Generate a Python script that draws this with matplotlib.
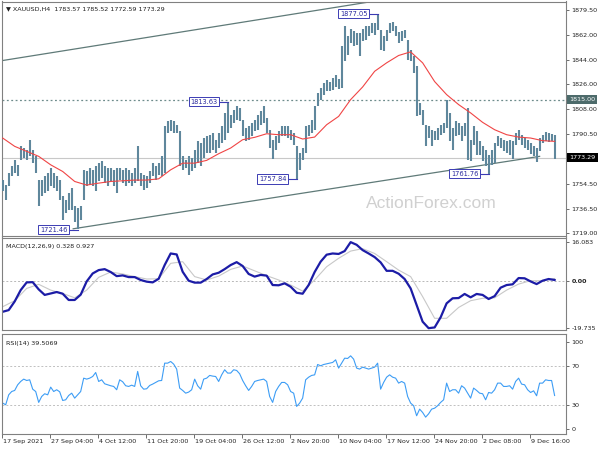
import numpy as np
import matplotlib
matplotlib.use("Agg")
import matplotlib.pyplot as plt
import matplotlib.transforms as mtransforms

# XAUUSD H4, one entry per 8 hours (two H4 bars)
highs = [
    1757.3, 1753.7, 1762.1, 1766.9, 1771.8, 1768.1, 1781.4, 1780.2, 1779.0, 1786.2,
    1779.0, 1774.2, 1757.3, 1757.3, 1759.7, 1762.1, 1765.7, 1762.1, 1759.7, 1757.3,
    1745.3, 1742.9, 1747.7, 1751.3, 1738.1, 1736.9, 1738.1, 1764.5, 1763.3, 1765.7,
    1764.5, 1766.9, 1769.3, 1770.5, 1766.9, 1765.7, 1765.7, 1764.5, 1765.7, 1765.7,
    1764.5, 1765.7, 1764.5, 1762.1, 1765.7, 1781.4, 1762.1, 1760.9, 1759.7, 1763.3,
    1769.3, 1766.9, 1769.3, 1774.2, 1795.8, 1799.4, 1800.6, 1799.4, 1797.0, 1792.2,
    1774.2, 1771.8, 1774.2, 1773.0, 1779.0, 1785.0, 1783.8, 1787.4, 1788.6, 1789.8,
    1791.0, 1786.2, 1791.0, 1795.8, 1805.5, 1813.6, 1804.3, 1807.9, 1810.3, 1809.1,
    1800.6, 1794.6, 1795.8, 1798.2, 1800.6, 1804.3, 1806.7, 1810.7, 1801.8, 1793.4,
    1786.2, 1788.6, 1792.2, 1795.8, 1795.8, 1795.8, 1793.4, 1791.0, 1781.4, 1776.6,
    1780.2, 1795.8, 1797.0, 1800.6, 1810.3, 1819.9, 1823.5, 1827.1, 1829.5, 1827.6,
    1830.7, 1833.1, 1830.0, 1853.6, 1868.5, 1860.8, 1866.1, 1864.4, 1863.2, 1863.2,
    1866.1, 1868.0, 1868.5, 1870.4, 1870.4, 1877.1, 1865.6, 1860.8, 1865.6, 1870.0,
    1870.9, 1868.5, 1863.7, 1864.4, 1865.6, 1858.0, 1851.2, 1846.4, 1839.1, 1812.7,
    1807.9, 1797.0, 1795.8, 1793.4, 1792.2, 1794.6, 1797.0, 1798.2, 1815.1, 1805.5,
    1794.6, 1799.4, 1798.2, 1795.8, 1798.2, 1809.1, 1786.2, 1795.8, 1792.2, 1785.0,
    1781.4, 1779.0, 1775.4, 1779.0, 1783.8, 1788.6, 1787.4, 1786.2, 1785.0, 1786.2,
    1785.0, 1791.0, 1793.4, 1789.8, 1787.4, 1786.2, 1783.8, 1781.4, 1780.2, 1787.4,
    1789.8, 1791.5, 1791.0, 1790.3, 1789.8,
]
lows = [
    1748.9, 1742.9, 1752.5, 1759.7, 1762.1, 1759.7, 1771.8, 1773.0, 1771.8, 1774.2,
    1769.3, 1762.1, 1738.1, 1745.3, 1747.7, 1748.9, 1752.5, 1751.3, 1748.9, 1742.9,
    1728.4, 1733.2, 1735.6, 1735.6, 1727.2, 1721.5, 1728.4, 1742.9, 1752.5, 1753.7,
    1752.5, 1748.9, 1756.1, 1758.5, 1754.9, 1752.5, 1756.1, 1752.5, 1747.7, 1757.3,
    1754.9, 1752.5, 1754.9, 1752.5, 1754.9, 1756.1, 1752.5, 1750.1, 1751.3, 1754.9,
    1759.7, 1757.3, 1760.9, 1759.7, 1762.1, 1791.0, 1792.2, 1791.0, 1791.0, 1766.9,
    1764.5, 1765.7, 1760.9, 1763.3, 1765.7, 1769.3, 1766.9, 1773.0, 1776.6, 1776.6,
    1778.9, 1776.6, 1780.2, 1783.8, 1786.2, 1791.0, 1794.6, 1798.2, 1800.6, 1799.4,
    1788.6, 1785.0, 1786.2, 1788.6, 1792.2, 1793.4, 1797.0, 1798.2, 1791.0, 1780.2,
    1772.2, 1778.9, 1783.8, 1788.6, 1788.6, 1787.4, 1786.2, 1782.6, 1757.8, 1764.5,
    1771.8, 1776.6, 1788.6, 1791.0, 1793.4, 1810.3, 1815.1, 1818.7, 1821.1, 1821.1,
    1822.3, 1824.2, 1822.8, 1823.5, 1842.8, 1847.6, 1856.0, 1853.6, 1854.8, 1846.4,
    1857.2, 1858.4, 1860.8, 1863.2, 1862.0, 1865.6, 1851.2, 1850.0, 1857.2, 1863.2,
    1864.4, 1860.8, 1856.0, 1857.2, 1859.6, 1844.0, 1842.8, 1834.3, 1803.0, 1804.3,
    1797.0, 1781.4, 1787.4, 1781.4, 1786.2, 1786.2, 1789.8, 1791.0, 1794.6, 1785.0,
    1779.0, 1788.6, 1789.8, 1785.0, 1788.6, 1771.8, 1770.6, 1782.6, 1775.4, 1775.4,
    1770.6, 1766.9, 1761.8, 1768.1, 1769.3, 1781.4, 1780.2, 1777.8, 1776.6, 1775.4,
    1772.2, 1782.6, 1786.2, 1782.6, 1780.2, 1779.0, 1776.1, 1774.2, 1769.8, 1777.8,
    1783.8, 1785.0, 1784.3, 1785.0, 1772.6,
]

# moving average (red), every 4th entry
ma_values = [
    1787.4, 1781.4, 1777.8, 1774.2, 1768.1, 1763.3, 1756.1, 1753.5, 1754.9, 1756.1,
    1756.6, 1757.1, 1757.1, 1758.0, 1764.5, 1769.3, 1769.3, 1771.3, 1776.1, 1780.2,
    1786.2, 1787.9, 1790.5, 1789.8, 1789.8, 1786.7, 1788.1, 1797.0, 1803.0, 1815.1,
    1824.2, 1835.5, 1841.6, 1846.9, 1849.5, 1841.6, 1828.1, 1818.7, 1811.5, 1805.5,
    1798.7, 1793.4, 1789.8, 1788.1, 1787.4, 1785.5, 1785.0,
]

# MACD(12,26,9): main every 2nd entry, signal every 4th entry
macd_main = [
    -12.9, -12.2, -8.6, -3.9, -0.7, -0.6, -3.6, -5.9, -5.3, -4.7,
    -5.4, -8.0, -8.0, -5.8, -0.3, 3.0, 4.4, 4.8, 3.6, 1.9,
    2.2, 1.5, 1.5, 0.3, -0.4, -0.7, 0.8, 6.5, 11.3, 10.9,
    3.7, 0.0, -0.8, -0.8, 0.7, 2.6, 3.3, 4.8, 6.5, 7.7,
    6.1, 2.8, 1.7, 2.4, 2.1, -1.8, -1.9, -1.1, -2.5, -5.0,
    -5.4, -1.8, 3.6, 7.9, 10.8, 11.3, 11.1, 12.3, 16.0, 14.9,
    12.7, 11.3, 9.8, 7.6, 4.1, 4.1, 2.9, 0.7, -3.2, -10.1,
    -17.0, -19.7, -19.4, -15.2, -9.4, -7.3, -7.2, -5.5, -6.9, -5.5,
    -5.9, -7.6, -6.4, -2.9, -1.8, -1.5, 1.1, 1.0, -0.3, -1.4,
    0.0, 0.7, 0.3,
]
macd_signal = [
    -10.8, -8.3, -3.2, -1.5, -3.9, -5.3, -7.1, -3.9, 1.4, 3.6,
    2.8, 1.7, 0.7, 0.8, 7.2, 7.9, 1.7, 0.3, 1.9, 4.7,
    6.1, 4.1, 2.1, 0.3, -1.8, -4.3, 0.3, 5.8, 9.3, 12.3,
    13.3, 11.3, 7.9, 4.4, 1.7, -6.6, -15.6, -15.6, -11.1, -8.3,
    -7.3, -7.1, -3.9, -1.4, 0.0, 0.0, 0.9,
]

rsi_values = [
    31.7, 30.0, 40.2, 43.6, 44.7, 50.5, 53.9, 56.3, 54.9, 55.6,
    46.0, 43.6, 32.4, 38.5, 41.3, 40.2, 48.1, 43.6, 45.4, 43.3,
    34.4, 35.1, 39.5, 41.9, 36.8, 40.2, 43.6, 57.3, 56.3, 57.3,
    59.0, 63.1, 53.9, 55.6, 51.5, 50.5, 49.5, 48.8, 45.4, 55.6,
    53.6, 49.5, 48.8, 50.1, 48.8, 64.2, 49.5, 46.0, 46.4, 49.8,
    51.2, 52.9, 54.6, 54.9, 72.7, 72.7, 74.4, 71.7, 66.6, 47.1,
    44.7, 41.9, 43.0, 45.4, 56.3, 49.5, 46.0, 56.3, 57.3, 60.1,
    59.4, 59.0, 53.9, 60.7, 65.9, 62.5, 62.5, 65.9, 65.2, 61.8,
    54.9, 49.5, 44.7, 48.8, 53.9, 54.9, 55.6, 56.3, 53.9, 38.5,
    32.4, 43.6, 48.8, 52.9, 52.9, 50.5, 43.6, 41.9, 28.3, 31.7,
    36.8, 55.6, 58.3, 60.1, 60.7, 71.3, 70.0, 71.3, 72.0, 72.7,
    73.4, 76.1, 67.6, 72.7, 77.8, 77.5, 80.2, 76.8, 67.6, 66.6,
    68.6, 67.6, 66.6, 67.6, 68.6, 72.7, 46.0, 52.9, 58.3, 60.7,
    58.3, 57.3, 52.2, 53.9, 52.2, 38.5, 31.7, 29.0, 18.7, 25.5,
    22.1, 17.3, 20.7, 25.5, 26.5, 29.0, 32.4, 35.1, 52.2, 43.6,
    45.4, 45.4, 41.9, 49.5, 47.1, 41.9, 36.8, 47.1, 44.7, 41.9,
    41.3, 35.1, 42.6, 41.9, 45.4, 52.2, 52.2, 48.8, 48.8, 49.5,
    46.0, 53.9, 57.3, 51.2, 50.5, 45.4, 42.6, 44.3, 39.2, 52.2,
    52.2, 55.6, 54.9, 54.9, 39.5,
]

date_labels = ["17 Sep 2021", "27 Sep 04:00", "4 Oct 12:00", "11 Oct 20:00",
               "19 Oct 04:00", "26 Oct 12:00", "2 Nov 20:00", "10 Nov 04:00",
               "17 Nov 12:00", "24 Nov 20:00", "2 Dec 08:00", "9 Dec 16:00"]

price_ticks = [1879.50, 1862.00, 1844.00, 1826.00, 1808.00, 1790.50, 1754.50, 1736.50, 1719.00]

# swing labels: (bar, price)
swing_bars = [125, 75, 98, 25, 162]
swing_prices = [1877.05, 1813.63, 1757.84, 1721.46, 1761.76]

# channel lines: anchor bars / prices
upper_bars, upper_prices = [-0.5, 140], [1843.1, 1891.6]
lower_bars, lower_prices = [23.5, 179], [1722.0, 1774.2]

resistance = 1815.00
last_close = 1773.29

n = len(highs)
bars = np.arange(n)

fig = plt.figure(figsize=(6, 4.5), dpi=100)


def panel(top, bottom):
    return fig.add_axes([1.5 / 600, 1 - bottom / 450, (566 - 1.5) / 600, (bottom - top) / 450])


ax = panel(1.5, 236)
ax_m = panel(237.5, 330)
ax_r = panel(334, 434)

for a in (ax, ax_m, ax_r):
    a.set_xlim(-0.4, 187.8)
    a.set_xticks([])
    for s in a.spines.values():
        s.set_color("#808080")
        s.set_linewidth(0.8)
    a.yaxis.tick_right()
    a.tick_params(axis="y", direction="out", length=2.5, width=0.6, colors="#555555",
                  labelsize=4.6, labelcolor="#222222", pad=1.5)

# ---- price panel
ax.set_ylim(1716.8, 1885.8)
ax.set_yticks(price_ticks)
ax.set_yticklabels([f"{p:.2f}" for p in price_ticks])

ax.text(143, 1740, "ActionForex.com", fontsize=12.5, color="#d0d0d0",
        family="Liberation Sans", ha="center", va="center", zorder=0)

ax.axhline(resistance, color="#6e8c8c", lw=0.9, ls=(0, (1.5, 2)), zorder=1)
ax.axhline(last_close, color="#c8c8c8", lw=0.8, zorder=1)
ax.plot(upper_bars, upper_prices, color="#5f7a78", lw=0.9, zorder=2)
ax.plot(lower_bars, lower_prices, color="#5f7a78", lw=0.9, zorder=2)

ax.vlines(bars, lows, highs, color="#5f879c", lw=1.5, zorder=3)
ax.plot(np.arange(0, n, 4), ma_values, color="#f04545", lw=0.8, zorder=4)

for b, p in zip(swing_bars, swing_prices):
    ax.plot([b - 3, b], [p, p], color="#3c3cb4", lw=0.8, zorder=5)
    ax.text(b - 3.4, p, f"{p:.2f}", fontsize=4.8, color="#2a2a9e", ha="right", va="center",
            zorder=6, bbox=dict(boxstyle="square,pad=0.25", fc="white", ec="#3c3cb4", lw=0.7))

right = mtransforms.blended_transform_factory(ax.transAxes, ax.transData)
ax.text(1.006, resistance, f"{resistance:.2f}", transform=right, fontsize=4.6, color="white",
        ha="left", va="center", clip_on=False,
        bbox=dict(boxstyle="square,pad=0.3", fc="#4d6b6b", ec="none"))
ax.text(1.006, last_close, f"{last_close:.2f}", transform=right, fontsize=4.6, color="white",
        ha="left", va="center", clip_on=False,
        bbox=dict(boxstyle="square,pad=0.3", fc="black", ec="none"))

ax.text(0.008, 0.968, "\u25bc XAUUSD,H4  1783.57 1785.52 1772.59 1773.29", transform=ax.transAxes,
        fontsize=4.6, color="#202020", ha="left", va="center")

# ---- MACD panel
ax_m.set_ylim(-20.46, 17.93)
ax_m.axhline(0, color="#b8b8b8", lw=0.7, ls=(0, (2, 2)))
ax_m.plot(np.arange(0, n, 4), macd_signal, color="#c8c8c8", lw=0.8)
ax_m.plot(np.arange(0, n, 2), macd_main, color="#1c1ca6", lw=1.6)
ax_m.set_yticks([16.083, 0.0, -19.735])
ax_m.set_yticklabels(["16.083", "0.00", "-19.735"])
ax_m.get_yticklabels()[1].set_fontweight("bold")
ax_m.text(0.008, 0.9, "MACD(12,26,9) 0.328 0.927", transform=ax_m.transAxes,
          fontsize=4.6, color="#202020", ha="left", va="center")

# ---- RSI panel
ax_r.set_ylim(0, 102.6)
for lvl in (70, 30):
    ax_r.axhline(lvl, color="#c0c0c0", lw=0.7, ls=(0, (2, 2)))
ax_r.plot(bars, rsi_values, color="#3d9df5", lw=0.8)
ax_r.set_yticks([94.6, 70, 30, 5.4])
ax_r.set_yticklabels(["100", "70", "30", "0"])
ax_r.text(0.008, 0.91, "RSI(14) 39.5069", transform=ax_r.transAxes,
          fontsize=4.6, color="#202020", ha="left", va="center")

date_pos = [16 * k - 0.3 for k in range(len(date_labels))]
ax_r.set_xticks(date_pos)
ax_r.set_xticklabels([])
ax_r.tick_params(axis="x", direction="out", length=3, width=0.6, colors="#555555")
bottom = mtransforms.blended_transform_factory(ax_r.transData, ax_r.transAxes)
for pos, lab in zip(date_pos, date_labels):
    ax_r.text(pos + 0.4, -0.075, lab, transform=bottom, fontsize=4.6, color="#222222",
              ha="left", va="center", clip_on=False)

fig.savefig("out.png", dpi=100, facecolor="white")
